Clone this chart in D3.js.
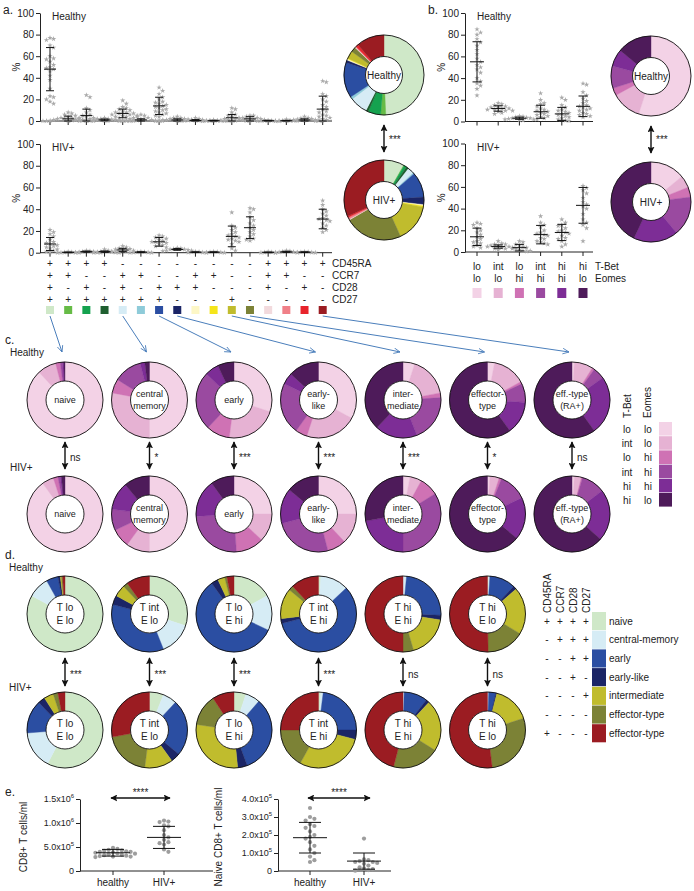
<!DOCTYPE html>
<html>
<head>
<meta charset="utf-8">
<script src="https://cdn.jsdelivr.net/npm/d3@7"></script>
<style>
body{margin:0;background:#fff}
text{font-family:"Liberation Sans",Arial,sans-serif;fill:#222}
</style>
</head>
<body>
<svg id="fig" width="694" height="891"></svg>
<script>
// ---------- data ----------
// 16 CD45RA/CCR7/CD28/CD27 subsets
var subsetColors = ['#cfe8c8','#66bb46','#15a24f','#1f5f30','#d6ecf5','#8ecbd9','#2b4ea2','#1b2566',
                    '#fdf7c6','#f5e51a','#c0bc2d','#7c8236','#f2dadd','#f08088','#e8242c','#9b1c22'];
var cd45ra = ['+','+','+','+','-','-','-','-','-','-','-','-','+','+','+','+'];
var ccr7   = ['+','+','-','-','+','+','-','-','+','+','-','-','+','+','-','-'];
var cd28   = ['+','-','+','-','+','-','+','+','+','-','-','-','+','-','+','-'];
var cd27   = ['+','+','+','+','+','+','+','-','-','-','+','-','-','-','-','-'];
var markerNames = ['CD45RA','CCR7','CD28','CD27'];

var aHealthyDots = [
  [77,76,75,70,68,60,58,57,55,52,50,49,48,46,42,38,30,23,22,20,18,16],
  [8,7,6,5,4,3,2,2,1,1,0.5,0.5,0.3,0.2,0.1,0,0,1.5,2.5,3],
  [24,22,12,10,8,6,5,4,3,3,2,2,1,1,0.5,0.5,0.2,0,0,1],
  [3,2,2,1.5,1,1,0.8,0.6,0.5,0.4,0.3,0.2,0.1,0,0,0.5],
  [19,16,13,12,11,10,9,8,8,7,7,6,6,5,5,4,4,3,3,2],
  [6,5,4,3,2,1.5,1,1,0.5,0.5,0.3,0.2,0,0,0.1,0.4],
  [31,28,25,22,20,18,17,16,15,14,13,12,11,10,9,8,7,6,5,4],
  [4,3,3,2,2,1.5,1,1,1,0.5,0.5,0.3,0.2,0,0.1],
  [3,2,1,1,0.5,0.3,0.2,0,0,0.1,0.4],
  [1,0.5,0.3,0.2,0.1,0,0,0.2],
  [12,11,8,6,5,4,3,2,2,1,1,0.5,0.3,0,0.2,0.5],
  [5,5,4,3,3,2,2,1.5,1,1,0.5,0.3,0,0.2],
  [0.5,0.3,0.2,0.1,0,0,0.1],
  [1.5,0.5,0.3,0.2,0,0,0.1],
  [4,3,2.5,2,1.5,1,1,0.5,0.3,0.2,0,0.1],
  [37,36,25,23,20,18,15,13,11,9,8,6,5,4,3,2,1,0.5,0]
];
var aHealthyMean = [48,2,5,1,7,1,14,1,0.5,0.3,3,2,0.3,0.3,1,11];
var aHealthySD   = [20,2.5,6,0.8,4,1,8,1,0.8,0.3,3,2,0.3,0.3,1,12];

var aHivDots = [
  [21,19,17,15,12,10,9,8,7,6,5,4,3,2,1,0.5],
  [1,0.5,0.3,0.2,0.1,0,0],
  [2,1.5,1,1,0.5,0.3,0.2,0],
  [3,2,1,1,0.5,0.3,0.1,0],
  [6,5,4,3.5,3,2.5,2,1.5,1,0.5,0],
  [1,0.8,0.5,0.3,0.2,0],
  [16,15,14,13,12,11,10,10,9,8,7,6,5],
  [4.5,4,3.5,3,3,2.5,2,2,1.5],
  [1,0.8,0.5,0.3,0.2,0],
  [1,0.8,0.5,0.3,0.2,0],
  [37,25,23,21,19,17,16,15,14,13,12,11,10,8,4,2],
  [41,40,37,33,30,27,25,23,21,19,17,15,13,12,11],
  [1,0.5,0.3,0.1,0],
  [2,1.5,1,0.8,0.5,0.3,0],
  [1,0.8,0.5,0.3,0.2,0],
  [48,44,40,38,36,34,32,31,30,29,27,25,23,21,19]
];
var aHivMean = [8,0.3,1,1,2.5,0.5,10,3,0.5,0.5,15,23,0.3,0.8,0.5,31];
var aHivSD   = [6,0.3,0.5,0.6,1.5,0.4,4,0.8,0.3,0.3,9.5,10,0.3,0.5,0.3,9];

// T-Bet / Eomes groups
var tbet  = ['lo','int','lo','int','hi','hi'];
var eomes = ['lo','lo','hi','hi','hi','lo'];
var tbColors = ['#f3d2e6','#e6b2d3','#cf72b4','#9a4aa0','#7d2d96','#4e1b5a'];

var bHealthyDots = [
  [85,82,80,76,73,70,66,62,58,55,52,50,48,45,40,37,35,33,30,24],
  [17,16,15,14,13,13,12,12,11,11,10,10,9,8,7],
  [5,4.5,4,3.5,3,3,2.5,2,2,1.5,1],
  [26,20,17,16,14,12,11,10,9,8,7,6,5,4,3,2],
  [22,20,15,13,11,10,9,8,7,6,5,4,3,2,1,0.5],
  [35,34,27,24,21,19,17,15,14,13,12,11,10,8,7,6,5,4]
];
var bHealthyMean = [55,12,3,9,7,14];
var bHealthySD   = [18.5,2.5,1,6,6,9.5];
var bHivDots = [
  [27,26,25,22,20,18,16,14,12,10,9,8,6,5,4],
  [10,8,7,7,6,6,5,5,4,4,3,3,2],
  [10,9,7,6,5,4,3,3,2,1,1,0.5],
  [33,27,25,23,20,18,17,16,15,13,12,10,9,8,7],
  [30,27,25,24,22,20,19,18,17,15,13,12,10,7,5],
  [61,59,57,54,50,46,44,42,40,35,30,27,25,22,10]
];
var bHivMean = [14,5,4,16,18,43];
var bHivSD   = [8,1.5,3,8.5,7.5,16.5];

// panel c: T-Bet/Eomes make-up of each differentiation subset
var cSubsetIdx = [0,4,6,7,10,11,15];
var cLabels = [['naive'],['central','memory'],['early'],['early-','like'],['inter-','mediate'],['effector-','type'],['eff.-type','(RA+)']];
var cStars = ['ns','*','***','***','***','*','ns'];
var cHealthy = [
  [88,8,2,1,0.5,0.5],
  [50,28,6,12,2,2],
  [30,22,10,25,6,7],
  [33,22,5,22,5,13],
  [5,17,2,20,18,38],
  [3,14,1,8,14,60],
  [1,8,1,5,25,60]
];
var cHiv = [
  [90,5,2,1,0.5,1.5],
  [50,10,8,9,12,11],
  [25,12,12,25,16,10],
  [25,13,8,25,15,14],
  [3,5,8,34,22,28],
  [1,4,1,12,18,64],
  [1,3,0.5,10,22,63.5]
];

// panel d: differentiation make-up of each T-Bet/Eomes group
var dNames = ['naive','central-memory','early','early-like','intermediate','effector-type','effector-type'];
var dLabels = [['T lo','E lo'],['T int','E lo'],['T lo','E hi'],['T int','E hi'],['T hi','E hi'],['T hi','E lo']];
var dStars = ['***','***','***','***','ns','ns'];
var dHealthy = [
  [83,9,5,1,0.5,0.5,1],
  [30,14,35,4,5,2,10],
  [17,15,58,3,3,1,3],
  [1,12,58,2,13,2,12],
  [0,1.5,24,2,18,4.5,50],
  [0.5,0.5,11,1.5,20,16,50]
];
var dHiv = [
  [57,16,14,3,4,2,3],
  [6,6,24,4,12,20,28],
  [5,6,32,4,28,13,9],
  [1,1,23,4,29,17,25],
  [0,0.5,10,1.5,22,20,46],
  [0,0.5,3,0.5,16,28,52]
];

// panel e
var eGroups = ['healthy','HIV+'];
var eCd8Healthy = [4.8e5,4.6e5,4.4e5,4.3e5,4.2e5,4.1e5,4.0e5,3.9e5,3.8e5,3.7e5,3.6e5,3.5e5,3.4e5,3.3e5,3.2e5,3.1e5,3.0e5,3.0e5,2.9e5,4.0e5];
var eCd8Hiv = [10.5e5,10.3e5,10.2e5,9.5e5,9.3e5,8.5e5,7.5e5,7.0e5,6.5e5,6.0e5,5.8e5,5.5e5,4.5e5,4.0e5];
var eCd8Mean = [3.8e5,7.0e5], eCd8SD = [0.7e5,2.3e5];
var eCd8Ticks = [0,5e5,1e6,1.5e6], eCd8TickLab = [['0',''],['5.0x10','5'],['1.0x10','6'],['1.5x10','6']];
var eNaiveHealthy = [3.5e5,3.0e5,2.9e5,2.8e5,2.6e5,2.5e5,2.4e5,2.2e5,2.0e5,1.9e5,1.8e5,1.6e5,1.4e5,1.2e5,1.0e5,0.8e5,0.6e5,0.5e5];
var eNaiveHiv = [1.8e5,0.65e5,0.6e5,0.55e5,0.5e5,0.5e5,0.45e5,0.4e5,0.3e5,0.2e5,0.15e5,0.1e5,0.05e5,0.02e5];
var eNaiveMean = [1.85e5,0.55e5], eNaiveSD = [0.85e5,0.45e5];
var eNaiveTicks = [0,1e5,2e5,3e5,4e5], eNaiveTickLab = [['0',''],['1.0x10','5'],['2.0x10','5'],['3.0x10','5'],['4.0x10','5']];

// ---------- drawing ----------
var svg = d3.select('#fig');
var defs = svg.append('defs');
defs.append('marker').attr('id','ah').attr('viewBox','0 0 10 10')
  .attr('refX',9).attr('refY',5).attr('markerWidth',5).attr('markerHeight',5)
  .attr('orient','auto-start-reverse')
  .append('path').attr('d','M0,0L10,5L0,10L2,5z').attr('fill','#111');
defs.append('marker').attr('id','bh').attr('viewBox','0 0 10 10')
  .attr('refX',9).attr('refY',5).attr('markerWidth',7).attr('markerHeight',7)
  .attr('orient','auto')
  .append('path').attr('d','M0,1L9,5L0,9').attr('fill','none').attr('stroke','#4a7ebb').attr('stroke-width',1.2);

function txt(x, y, s, size, anchor) {
  return svg.append('text').attr('x',x).attr('y',y).attr('font-size',size||10)
    .attr('text-anchor',anchor||'start').text(s);
}

function styleAxis(g) {
  g.attr('font-family',null).attr('font-size',null);
  g.selectAll('text').attr('font-size',10);
  g.selectAll('path,line').attr('stroke','#222');
}

// simple swarm so dots in a column do not sit on each other
function swarm(vals, cx, y, step) {
  var placed = [];
  vals.slice().sort(function(a,b){return b-a;}).forEach(function(v) {
    var py = y(v);
    for (var k = 0; k < 60; k++) {
      var px = cx + (k === 0 ? 0 : (k % 2 ? 1 : -1) * Math.ceil(k/2) * step);
      var hit = placed.some(function(p){ return (p.x-px)*(p.x-px)+(p.y-py)*(p.y-py) < step*step*0.9; });
      if (!hit) { placed.push({x:px, y:py}); break; }
    }
  });
  return placed;
}

function errBar(g, x, y, m, s, wMean, wCap) {
  var lo = Math.max(0, m - s), hi = m + s;
  g.append('line').attr('x1',x).attr('x2',x).attr('y1',y(lo)).attr('y2',y(hi));
  g.append('line').attr('x1',x-wCap).attr('x2',x+wCap).attr('y1',y(lo)).attr('y2',y(lo));
  g.append('line').attr('x1',x-wCap).attr('x2',x+wCap).attr('y1',y(hi)).attr('y2',y(hi));
  g.append('line').attr('x1',x-wMean).attr('x2',x+wMean).attr('y1',y(m)).attr('y2',y(m));
}

// percent scatter panels (a and b)
function percentPlot(o) {
  var x = d3.scalePoint().domain(d3.range(o.dots.length)).range([o.cx0, o.cx1]);
  var y = d3.scaleLinear().domain([0,100]).range([o.yBot, o.yTop]);
  svg.append('g').attr('transform','translate('+o.ax+',0)')
    .call(d3.axisLeft(y).tickValues([0,20,40,60,80,100]).tickSize(4).tickSizeOuter(0).tickPadding(2))
    .call(styleAxis);
  var xa = svg.append('g').attr('stroke','#222');
  xa.append('line').attr('x1',o.ax).attr('x2',o.axEnd).attr('y1',o.yBot).attr('y2',o.yBot);
  xa.selectAll('.tk').data(x.domain()).enter().append('line')
    .attr('x1',function(d){return x(d);}).attr('x2',function(d){return x(d);})
    .attr('y1',o.yBot).attr('y2',o.yBot+4);
  svg.append('text').attr('transform','translate('+(o.ax-20)+','+((o.yTop+o.yBot)/2)+') rotate(-90)')
    .attr('font-size',10).attr('text-anchor','middle').text('%');
  txt(o.ax+12, o.yTop+7, o.title, 10);
  var dg = svg.append('g').attr('fill','#aaaaaa');
  o.dots.forEach(function(vals, i) {
    swarm(vals, x(i), y, 3.6).forEach(function(p) {
      dg.append('path').attr('d', d3.symbol(d3.symbolStar).size(9)()).attr('transform','translate('+p.x+','+p.y+')');
    });
  });
  var eg = svg.append('g').attr('stroke','#111').attr('stroke-width',1);
  o.mean.forEach(function(m, i) { errBar(eg, x(i), y, m, o.sd[i], o.wMean, o.wCap); });
  return x;
}

function donut(cx, cy, vals, colors, rO, rI, lines, fs) {
  var g = svg.append('g').attr('transform','translate('+cx+','+cy+')');
  var arc = d3.arc().innerRadius(rI).outerRadius(rO);
  g.selectAll('path').data(d3.pie().sort(null)(vals)).enter().append('path')
    .attr('d', arc)
    .attr('fill', function(d,i){return colors[i];})
    .attr('stroke', function(d,i){return colors[i];}).attr('stroke-width',0.4);
  g.append('circle').attr('r',rO).attr('fill','none').attr('stroke','#111').attr('stroke-width',0.9);
  g.append('circle').attr('r',rI).attr('fill','#fff').attr('stroke','#111').attr('stroke-width',0.9);
  var lh = fs * 1.25;
  lines.forEach(function(s, i) {
    g.append('text').attr('x',0).attr('y',(i-(lines.length-1)/2)*lh)
      .attr('dominant-baseline','central').attr('text-anchor','middle').attr('font-size',fs).text(s);
  });
}

function vArrow(x, y1, y2, label, ly) {
  svg.append('line').attr('x1',x).attr('x2',x).attr('y1',y1).attr('y2',y2)
    .attr('stroke','#111').attr('stroke-width',1.4)
    .attr('marker-start','url(#ah)').attr('marker-end','url(#ah)');
  txt(x+5, ly, label, 10).attr('fill','#333');
}

// ---- panel a ----
txt(3, 14, 'a.', 12);
var xa = percentPlot({dots:aHealthyDots, mean:aHealthyMean, sd:aHealthySD, ax:40, axEnd:332,
  cx0:50, cx1:322.7, yTop:13, yBot:121, title:'Healthy', wMean:6, wCap:4});
percentPlot({dots:aHivDots, mean:aHivMean, sd:aHivSD, ax:40, axEnd:332,
  cx0:50, cx1:322.7, yTop:144, yBot:252.7, title:'HIV+', wMean:6, wCap:4});

[cd45ra, ccr7, cd28, cd27].forEach(function(row, r) {
  var yy = [263,275,287,299][r];
  row.forEach(function(s, i) {
    txt(xa(i), yy+3.5, s, 10, 'middle');
  });
  txt(332, yy+3.5, markerNames[r], 10);
});
svg.selectAll('.sq').data(subsetColors).enter().append('rect')
  .attr('x', function(d,i){return xa(i)-4;}).attr('y',306).attr('width',8).attr('height',8)
  .attr('fill', function(d){return d;});

donut(384, 75, aHealthyMean, subsetColors, 40, 18.5, ['Healthy'], 10);
donut(384, 200, aHivMean, subsetColors, 40, 18.5, ['HIV+'], 10);
vArrow(384, 125, 152, '***', 143);

// ---- panel b ----
txt(428, 14, 'b.', 12);
var xb = percentPlot({dots:bHealthyDots, mean:bHealthyMean, sd:bHealthySD, ax:465, axEnd:593,
  cx0:477, cx1:583, yTop:13, yBot:121.5, title:'Healthy', wMean:7, wCap:4.5});
percentPlot({dots:bHivDots, mean:bHivMean, sd:bHivSD, ax:465, axEnd:593,
  cx0:477, cx1:583, yTop:143.5, yBot:252, title:'HIV+', wMean:7, wCap:4.5});
tbet.forEach(function(s, i) { txt(xb(i), 270, s, 10, 'middle'); });
eomes.forEach(function(s, i) { txt(xb(i), 282, s, 10, 'middle'); });
txt(595, 270, 'T-Bet', 10);
txt(595, 282, 'Eomes', 10);
svg.selectAll('.sqb').data(tbColors).enter().append('rect')
  .attr('x', function(d,i){return xb(i)-4.5;}).attr('y',288).attr('width',9).attr('height',10)
  .attr('fill', function(d){return d;});
donut(651, 76, bHealthyMean, tbColors, 40, 18.5, ['Healthy'], 10);
donut(651, 202, bHivMean, tbColors, 40, 18.5, ['HIV+'], 10);
vArrow(651, 126, 153, '***', 143);

// ---- panel c ----
var xc = d3.scalePoint().domain(d3.range(7)).range([65, 572]);
txt(5, 344, 'c.', 12);
txt(10, 356, 'Healthy', 10);
txt(10, 471, 'HIV+', 10);
cSubsetIdx.forEach(function(si, i) {
  svg.append('line').attr('x1',xa(si)).attr('y1',316).attr('x2',xc(i)-3).attr('y2',352)
    .attr('stroke','#4a7ebb').attr('stroke-width',1).attr('marker-end','url(#bh)');
});
cHealthy.forEach(function(v, i) { donut(xc(i), 400, v, tbColors, 38, 19, cLabels[i], 9); });
cHiv.forEach(function(v, i) { donut(xc(i), 514, v, tbColors, 38, 19, cLabels[i], 9); });
cStars.forEach(function(s, i) { vArrow(xc(i), 442, 469, s, 461); });

svg.append('text').attr('transform','translate(631,418) rotate(-90)').attr('font-size',10).text('T-Bet');
svg.append('text').attr('transform','translate(651,418) rotate(-90)').attr('font-size',10).text('Eomes');
tbColors.forEach(function(c, i) {
  var yy = 422 + i*14.2;
  txt(627, yy+11, tbet[i], 10, 'middle');
  txt(648, yy+11, eomes[i], 10, 'middle');
  svg.append('rect').attr('x',659).attr('y',yy).attr('width',13).attr('height',13.6).attr('fill',c);
});

// ---- panel d ----
var dColors = cSubsetIdx.map(function(i){return subsetColors[i];});
txt(5, 559, 'd.', 12);
txt(9, 571, 'Healthy', 10);
txt(9, 691, 'HIV+', 10);
dHealthy.forEach(function(v, i) { donut(xc(i), 614, v, dColors, 38, 19, dLabels[i], 10); });
dHiv.forEach(function(v, i) { donut(xc(i), 730, v, dColors, 38, 19, dLabels[i], 10); });
dStars.forEach(function(s, i) { vArrow(xc(i), 658, 686, s, 678); });

var legX = [547,560,573,586];
markerNames.forEach(function(m, j) {
  svg.append('text').attr('transform','translate('+(legX[j]+3.5)+',613) rotate(-90)').attr('font-size',10).text(m);
});
cSubsetIdx.forEach(function(si, r) {
  var yy = 612 + r*18.7;
  [cd45ra, ccr7, cd28, cd27].forEach(function(row, j) { txt(legX[j], yy+12.5, row[si], 10, 'middle'); });
  svg.append('rect').attr('x',592).attr('y',yy).attr('width',14).attr('height',18.1).attr('fill',dColors[r]);
  txt(609, yy+12.5, dNames[r], 10);
});

// ---- panel e ----
txt(5, 796, 'e.', 12);
function countPlot(o) {
  var x = d3.scalePoint().domain(eGroups).range([o.cx0, o.cx1]);
  var y = d3.scaleLinear().domain([0, o.max]).range([871, 799]);
  var ax = svg.append('g').attr('transform','translate('+o.ax+',0)')
    .call(d3.axisLeft(y).tickValues(o.ticks).tickSize(4).tickSizeOuter(0).tickPadding(2).tickFormat(''))
    .call(styleAxis);
  ax.selectAll('.tick text').each(function(d, i) {
    var t = d3.select(this).attr('font-size',9).text(o.tickLab[i][0]);
    if (o.tickLab[i][1]) t.append('tspan').attr('dy',-4).attr('font-size',6).text(o.tickLab[i][1]);
  });
  var g = svg.append('g').attr('stroke','#222');
  g.append('line').attr('x1',o.ax).attr('x2',o.axEnd).attr('y1',871).attr('y2',871);
  eGroups.forEach(function(gr) {
    g.append('line').attr('x1',x(gr)).attr('x2',x(gr)).attr('y1',871).attr('y2',875);
    txt(x(gr), 886, gr, 10, 'middle');
  });
  svg.append('text').attr('transform','translate('+o.labX+',837) rotate(-90)')
    .attr('font-size',10).attr('text-anchor','middle').text(o.label);
  var dg = svg.append('g').attr('fill','#9d9d9d');
  [o.h, o.v].forEach(function(vals, k) {
    swarm(vals, x(eGroups[k]), y, 4.4).forEach(function(p) {
      dg.append('circle').attr('cx',p.x).attr('cy',p.y).attr('r',2.1);
    });
  });
  var eg = svg.append('g').attr('stroke','#111').attr('stroke-width',1);
  o.mean.forEach(function(m, k) { errBar(eg, x(eGroups[k]), y, m, o.sd[k], 17, 11); });
  svg.append('line').attr('x1',x(eGroups[0])-2).attr('x2',x(eGroups[1])+6).attr('y1',798).attr('y2',798)
    .attr('stroke','#111').attr('stroke-width',1.4)
    .attr('marker-start','url(#ah)').attr('marker-end','url(#ah)');
  txt((x(eGroups[0])+x(eGroups[1]))/2+2, 796, '****', 10, 'middle');
}
countPlot({ax:80, axEnd:213, cx0:113, cx1:164, max:1.5e6, ticks:eCd8Ticks, tickLab:eCd8TickLab,
  labX:27, label:'CD8+ T cells/ml', h:eCd8Healthy, v:eCd8Hiv, mean:eCd8Mean, sd:eCd8SD});
countPlot({ax:278, axEnd:391, cx0:310, cx1:364, max:4e5, ticks:eNaiveTicks, tickLab:eNaiveTickLab,
  labX:222, label:'Naive CD8+ T cells/ml', h:eNaiveHealthy, v:eNaiveHiv, mean:eNaiveMean, sd:eNaiveSD});
</script>
</body>
</html>
